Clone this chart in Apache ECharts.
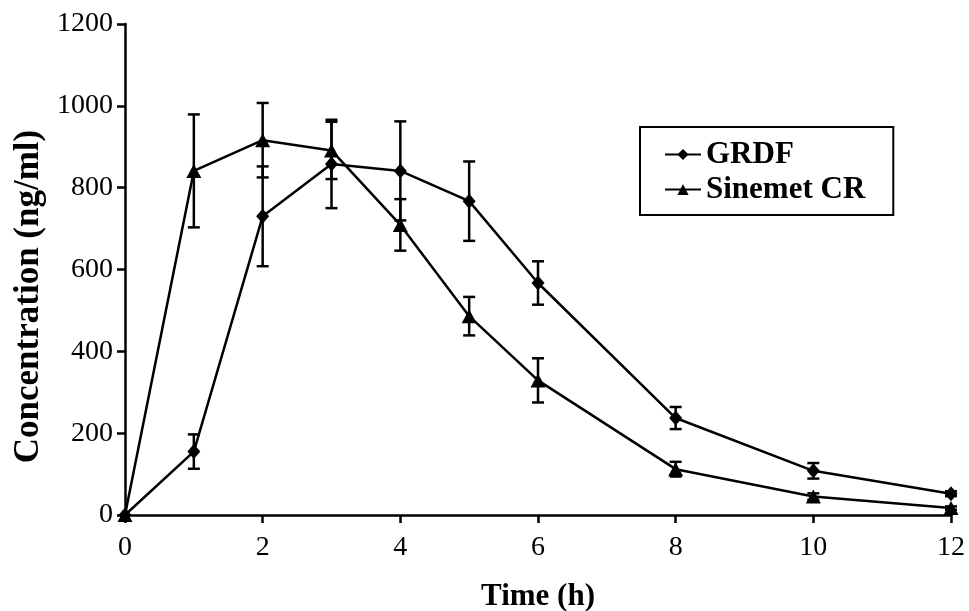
<!DOCTYPE html>
<html>
<head>
<meta charset="utf-8">
<script src="https://cdn.jsdelivr.net/npm/echarts@6/dist/echarts.min.js"></script>
<style>
html,body{margin:0;padding:0;background:#fff;}
#chart{width:969px;height:611px;}
</style>
</head>
<body>
<div id="chart"></div>
<script>
// Data
const times = [0, 1, 2, 3, 4, 5, 6, 8, 10, 12];
const grdfMean = [0, 155, 730, 858, 841, 767, 567, 237, 108, 52];
const grdfSd = [0, 42, 122, 108, 121, 97, 53, 27, 19, 6];
const sinemetMean = [0, 841, 916, 891, 709, 486, 329, 112, 45, 17];
const sinemetSd = [0, 138, 91, 70, 63, 47, 54, 18, 8, 4];
const seriesNames = ['GRDF', 'Sinemet CR'];
const xTitle = 'Time (h)';
const yTitle = 'Concentration (ng/ml)';

const FONT = 'Liberation Serif';

function pairs(xs, ys) { return xs.map((x, i) => [x, ys[i]]); }
function errData(xs, m, sd) {
  const out = [];
  xs.forEach((x, i) => { if (sd[i] > 0) out.push([x, m[i] - sd[i], m[i] + sd[i]]); });
  return out;
}
function errRender(params, api) {
  const x = api.value(0);
  const lo = api.coord([x, api.value(1)]);
  const hi = api.coord([x, api.value(2)]);
  const hw = 6;
  const st = { stroke: '#000', lineWidth: 2.5 };
  return {
    type: 'group',
    children: [
      { type: 'line', shape: { x1: lo[0], y1: lo[1], x2: hi[0], y2: hi[1] }, style: st },
      { type: 'line', shape: { x1: hi[0] - hw, y1: hi[1], x2: hi[0] + hw, y2: hi[1] }, style: st },
      { type: 'line', shape: { x1: lo[0] - hw, y1: lo[1], x2: lo[0] + hw, y2: lo[1] }, style: st }
    ]
  };
}

const chart = echarts.init(document.getElementById('chart'));
chart.setOption({
  animation: false,
  backgroundColor: '#fff',
  grid: { left: 125, right: 18, top: 24, bottom: 96, containLabel: false, outerBoundsMode: 'none' },
  legend: {
    orient: 'vertical',
    left: 640, top: 127,
    itemWidth: 36, itemHeight: 14, itemGap: 4,
    borderColor: '#000', borderWidth: 2,
    padding: [12, 28, 10, 24],
    textStyle: { fontFamily: FONT, fontWeight: 'bold', fontSize: 31, color: '#000' },
    data: seriesNames
  },
  xAxis: {
    type: 'value', min: 0, max: 12, interval: 2,
    name: xTitle, nameLocation: 'middle', nameGap: 66,
    nameTextStyle: { fontFamily: FONT, fontWeight: 'bold', fontSize: 31, color: '#000' },
    axisLine: { lineStyle: { color: '#000', width: 2.5 } },
    axisTick: { show: true, inside: false, length: 8, lineStyle: { color: '#000', width: 2.5 } },
    axisLabel: { fontFamily: FONT, fontSize: 28, color: '#000', margin: 19 },
    splitLine: { show: false }
  },
  yAxis: {
    type: 'value', min: 0, max: 1200, interval: 200,
    name: yTitle, nameLocation: 'middle', nameGap: 74,
    nameTextStyle: { fontFamily: FONT, fontWeight: 'bold', fontSize: 35, color: '#000', padding: [0, 54, 0, 0] },
    axisLine: { show: true, lineStyle: { color: '#000', width: 2.5 } },
    axisTick: { show: true, inside: false, length: 8, lineStyle: { color: '#000', width: 2.5 } },
    axisLabel: { fontFamily: FONT, fontSize: 28, color: '#000', margin: 12, formatter: v => String(v) },
    splitLine: { show: false }
  },
  series: [
    {
      name: seriesNames[0], type: 'line', data: pairs(times, grdfMean),
      symbol: 'diamond', symbolSize: [13, 15],
      lineStyle: { color: '#000', width: 2.5 }, itemStyle: { color: '#000' }, z: 3
    },
    {
      name: seriesNames[1], type: 'line', data: pairs(times, sinemetMean),
      symbol: 'triangle', symbolSize: [15, 14],
      lineStyle: { color: '#000', width: 2.5 }, itemStyle: { color: '#000' }, z: 3
    },
    {
      type: 'custom', name: 'grdfErr', data: errData(times, grdfMean, grdfSd),
      renderItem: errRender, z: 2, silent: true
    },
    {
      type: 'custom', name: 'sinErr', data: errData(times, sinemetMean, sinemetSd),
      renderItem: errRender, z: 2, silent: true
    }
  ]
});
</script>
</body>
</html>
